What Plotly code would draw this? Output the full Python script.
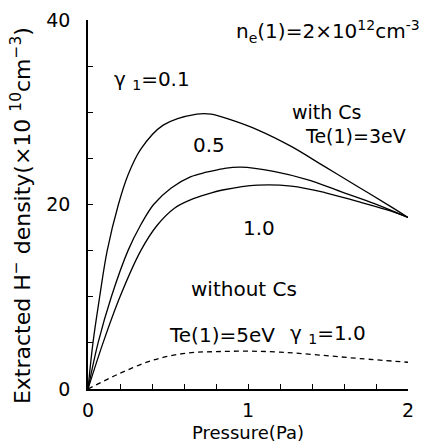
import plotly.graph_objects as go

# gamma_1 = 0.1 (with Cs)
x_g01 = [0, 0.031, 0.073, 0.12, 0.19, 0.25, 0.33, 0.47, 0.68, 0.77, 0.89, 1.06, 1.27, 1.48, 1.69, 1.89, 2.0]
y_g01 = [0, 5, 10, 15, 20, 23.2, 26.0, 28.6, 29.8, 29.8, 29.2, 28.1, 26.3, 24.1, 21.9, 19.8, 18.6]
# gamma_1 = 0.5 (with Cs)
x_g05 = [0, 0.063, 0.146, 0.25, 0.33, 0.41, 0.52, 0.64, 0.74, 0.85, 0.954, 1.16, 1.37, 1.58, 1.79, 2.0]
y_g05 = [0, 5, 10, 15, 17.8, 20, 21.8, 23.0, 23.5, 23.9, 24.05, 23.6, 22.7, 21.4, 20.1, 18.6]
# gamma_1 = 1.0 (with Cs)
x_g10 = [0, 0.094, 0.2, 0.33, 0.43, 0.54, 0.64, 0.74, 0.85, 1.06, 1.27, 1.48, 1.69, 1.89, 2.0]
y_g10 = [0, 5, 10, 15, 17.7, 19.6, 20.5, 21.1, 21.6, 22.1, 22.0, 21.3, 20.3, 19.3, 18.6]
# without Cs, gamma_1 = 1.0
x_noCs = [0, 0.2, 0.41, 0.62, 0.8, 1.0, 1.2, 1.43, 1.7, 2.0]
y_noCs = [0, 1.7, 3.15, 3.9, 4.05, 4.1, 4.0, 3.7, 3.3, 2.9]

x_tickvals = [0, 1, 2]
x_ticktext = ["0", "1", "2"]
x_minor_step = 0.2
y_tickvals = [0, 20, 40]
y_ticktext = ["0", "20", "40"]
y_minor_step = 5

x_title = "Pressure(Pa)"
y_title = "Extracted H<sup>−</sup> density(×10 <sup>10</sup>cm<sup>−3</sup>)"

FONT = "DejaVu Sans, Liberation Sans, sans-serif"

fig = go.Figure()
for xs, ys in [(x_g01, y_g01), (x_g05, y_g05), (x_g10, y_g10)]:
    fig.add_trace(go.Scatter(x=xs, y=ys, mode="lines",
                             line=dict(color="black", width=1.3, shape="spline", smoothing=1.0),
                             showlegend=False, hoverinfo="skip"))
fig.add_trace(go.Scatter(x=x_noCs, y=y_noCs, mode="lines",
                         line=dict(color="black", width=1.3, dash="5px,4px", shape="spline", smoothing=1.0),
                         showlegend=False, hoverinfo="skip"))

ann = [
    ("n<sub>e</sub>(1)=2×10<sup>12</sup>cm<sup>-3</sup>", 1.50, 38.8, 20),
    ("γ <sub>1</sub>=0.1", 0.40, 33.5, 20),
    ("0.5", 0.755, 26.4, 20),
    ("with Cs", 1.495, 30.0, 19),
    ("Te(1)=3eV", 1.67, 27.4, 19),
    ("1.0", 1.07, 17.4, 20),
    ("without Cs", 0.975, 10.8, 20),
    ("Te(1)=5eV", 0.84, 5.9, 20),
    ("γ <sub>1</sub>=1.0", 1.50, 6.0, 20),
]
for t, x, y, s in ann:
    fig.add_annotation(x=x, y=y, xref="x", yref="y", text=t, showarrow=False,
                       font=dict(family=FONT, size=s, color="black"))

fig.add_annotation(x=0.5, y=-0.119, xref="paper", yref="paper", text=x_title,
                   showarrow=False, xanchor="center", yanchor="middle",
                   font=dict(family=FONT, size=18, color="black"))
fig.add_annotation(x=-0.209, y=0.469, xref="paper", yref="paper", text=y_title,
                   showarrow=False, xanchor="center", yanchor="middle", textangle=-90,
                   font=dict(family=FONT, size=22, color="black"))

# page body has an 8px margin: size/margins compensate so the plot area sits at
# x 88..408, y 20..389 in the window
fig.update_layout(
    width=420, height=437,
    margin=dict(l=80, r=20, t=12, b=56),
    paper_bgcolor="white", plot_bgcolor="white",
    font=dict(family=FONT, size=19, color="black"),
    showlegend=False,
)
fig.update_xaxes(range=[0, 2], tickvals=x_tickvals, ticktext=x_ticktext,
                 ticks="inside", ticklen=5, tickwidth=1, tickcolor="black",
                 minor=dict(dtick=x_minor_step, tick0=0, ticks="inside", ticklen=5,
                            tickwidth=1, tickcolor="black", showgrid=False),
                 showline=True, linecolor="black", linewidth=1.5,
                 showgrid=False, zeroline=False, ticklabelstandoff=3, automargin=False,
                 tickfont=dict(size=19))
fig.update_yaxes(range=[0, 40], tickvals=y_tickvals, ticktext=y_ticktext,
                 ticks="inside", ticklen=5, tickwidth=1, tickcolor="black",
                 minor=dict(dtick=y_minor_step, tick0=0, ticks="inside", ticklen=5,
                            tickwidth=1, tickcolor="black", showgrid=False),
                 showline=True, linecolor="black", linewidth=1.5,
                 showgrid=False, zeroline=False, ticklabelstandoff=12, automargin=False,
                 tickfont=dict(size=19))

fig.write_html("out.html")
